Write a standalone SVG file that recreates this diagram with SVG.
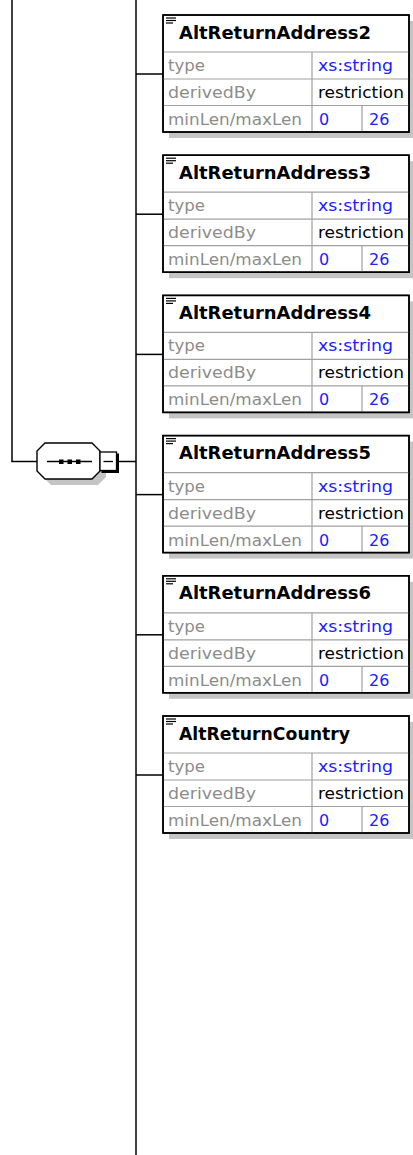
<svg xmlns="http://www.w3.org/2000/svg" width="413" height="1155" viewBox="0 0 413 1155">
<style>
.bg{fill:#ffffff}
.ln{stroke:#000;stroke-width:1.5;fill:none}
.sh{fill:#c4c4c4}
.bx{fill:#fff;stroke:#000;stroke-width:1.5}
.gl{stroke:#a0a0a0;stroke-width:1.2;fill:none}
.ic{stroke:#000;stroke-width:1.2}
.ttl{font-family:"DejaVu Sans","Liberation Sans",sans-serif;font-weight:bold;font-size:17.5px;fill:#000}
.lb{font-family:"DejaVu Sans","Liberation Sans",sans-serif;font-size:16px;fill:#8c8c8c}
.bl{font-family:"DejaVu Sans","Liberation Sans",sans-serif;font-size:16px;fill:#2020ff}
.bk{font-family:"DejaVu Sans","Liberation Sans",sans-serif;font-size:16px;fill:#000}
</style>
<defs>
<g id="frame">
<rect class="sh" x="169" y="6" width="247" height="117"/>
<rect class="bx" x="163" y="0" width="246" height="117"/>
<line class="gl" x1="163" y1="37" x2="409" y2="37"/>
<line class="gl" x1="163" y1="64" x2="409" y2="64"/>
<line class="gl" x1="163" y1="90.5" x2="409" y2="90.5"/>
<line class="gl" x1="312" y1="37" x2="312" y2="117"/>
<line class="gl" x1="362" y1="90.5" x2="362" y2="117"/>
<line class="ic" x1="166" y1="3" x2="176" y2="3"/>
<line class="ic" x1="166" y1="5.5" x2="176" y2="5.5"/>
<line class="ic" x1="166" y1="8" x2="173" y2="8"/>
<rect x="163" y="0" width="246" height="117" style="fill:none;stroke:#000;stroke-width:1.5"/>
<text class="lb" x="168" y="56" textLength="37" lengthAdjust="spacingAndGlyphs">type</text>
<text class="lb" x="168" y="83" textLength="88" lengthAdjust="spacingAndGlyphs">derivedBy</text>
<text class="lb" x="168" y="110" textLength="134" lengthAdjust="spacingAndGlyphs">minLen/maxLen</text>
<text class="bl" x="318" y="56" textLength="75" lengthAdjust="spacingAndGlyphs">xs:string</text>
<text class="bk" x="318" y="83" textLength="86" lengthAdjust="spacingAndGlyphs">restriction</text>
<text class="bl" x="319" y="110">0</text>
<text class="bl" x="369" y="110">26</text>
</g>
</defs>
<rect class="bg" x="0" y="0" width="413" height="1155"/>
<g id="connectors">
<line class="ln" x1="12" y1="0" x2="12" y2="461.5"/>
<line class="ln" x1="11.25" y1="461.5" x2="37" y2="461.5"/>
<line class="ln" x1="118" y1="461.5" x2="136" y2="461.5"/>
<line class="ln" x1="136" y1="0" x2="136" y2="1155"/>
<line class="ln" x1="136" y1="74" x2="163" y2="74"/>
<line class="ln" x1="136" y1="214.2" x2="163" y2="214.2"/>
<line class="ln" x1="136" y1="354.4" x2="163" y2="354.4"/>
<line class="ln" x1="136" y1="494.6" x2="163" y2="494.6"/>
<line class="ln" x1="136" y1="634.8" x2="163" y2="634.8"/>
<line class="ln" x1="136" y1="775" x2="163" y2="775"/>
</g>
<g id="sequence">
<polygon class="sh" points="51,449 98,449 106,457 106,477 98,485 51,485 43,477 43,457"/>
<polygon points="45,443 92,443 100,451 100,471 92,479 45,479 37,471 37,451" fill="#fff" stroke="#000" stroke-width="1.4"/>
<line x1="47" y1="461.5" x2="92" y2="461.5" stroke="#000" stroke-width="1.4"/>
<rect x="59" y="459.5" width="4.5" height="4.5" fill="#000"/>
<rect x="67.5" y="459.5" width="4.5" height="4.5" fill="#000"/>
<rect x="76" y="459.5" width="4.5" height="4.5" fill="#000"/>
<rect x="101.5" y="453.5" width="17.5" height="19.5" fill="#000"/>
<rect x="100" y="452" width="16.5" height="18.5" fill="#fff" stroke="#000" stroke-width="1.3"/>
<line x1="103.5" y1="461.5" x2="113" y2="461.5" stroke="#000" stroke-width="1.3"/>
</g>
<g id="AltReturnAddress2" transform="translate(0,15)">
<use href="#frame"/>
<text class="ttl" x="179" y="23.5" textLength="192" lengthAdjust="spacingAndGlyphs">AltReturnAddress2</text>
</g>
<g id="AltReturnAddress3" transform="translate(0,155.2)">
<use href="#frame"/>
<text class="ttl" x="179" y="23.5" textLength="192" lengthAdjust="spacingAndGlyphs">AltReturnAddress3</text>
</g>
<g id="AltReturnAddress4" transform="translate(0,295.4)">
<use href="#frame"/>
<text class="ttl" x="179" y="23.5" textLength="192" lengthAdjust="spacingAndGlyphs">AltReturnAddress4</text>
</g>
<g id="AltReturnAddress5" transform="translate(0,435.6)">
<use href="#frame"/>
<text class="ttl" x="179" y="23.5" textLength="192" lengthAdjust="spacingAndGlyphs">AltReturnAddress5</text>
</g>
<g id="AltReturnAddress6" transform="translate(0,575.8)">
<use href="#frame"/>
<text class="ttl" x="179" y="23.5" textLength="192" lengthAdjust="spacingAndGlyphs">AltReturnAddress6</text>
</g>
<g id="AltReturnCountry" transform="translate(0,716)">
<use href="#frame"/>
<text class="ttl" x="179" y="23.5" textLength="171" lengthAdjust="spacingAndGlyphs">AltReturnCountry</text>
</g>
</svg>
